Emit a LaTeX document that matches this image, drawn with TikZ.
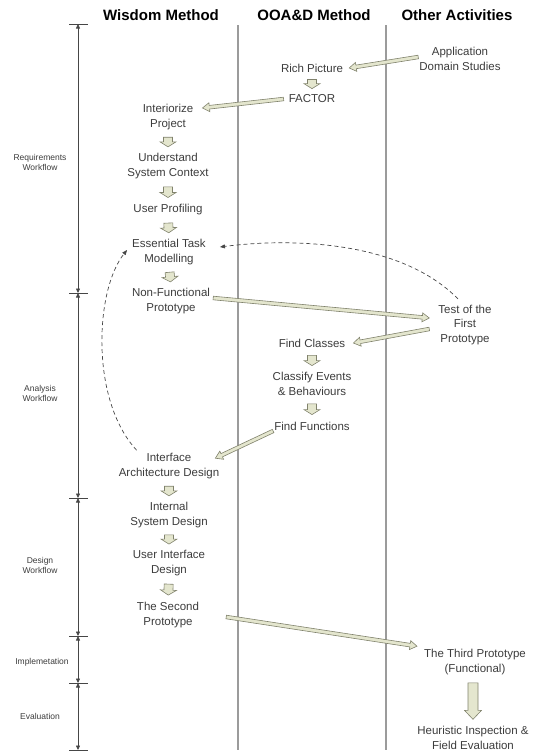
\documentclass[tikz,border=0pt]{standalone}
\usepackage{fontspec}
\setmainfont{Liberation Sans}
\usetikzlibrary{arrows.meta,calc}

\definecolor{textgray}{RGB}{60,60,60}
\definecolor{linegray}{RGB}{155,155,155}
\definecolor{axisgray}{RGB}{70,70,70}
\definecolor{arrowfill}{RGB}{228,230,206}
\definecolor{arrowedge}{RGB}{128,130,108}

% hollow block arrow: shaft half-width, head half-width, head length, from, to
\newcommand{\blockarrow}[5]{%
  \coordinate (ba-s) at (#4);
  \coordinate (ba-e) at (#5);
  \coordinate (ba-h) at ($(ba-e)!#3!(ba-s)$);
  \filldraw[fatarrow]
    ($(ba-s)!#1!90:(ba-e)$) -- ($(ba-h)!#1!90:(ba-e)$) -- ($(ba-h)!#2!90:(ba-e)$)
    -- (ba-e) -- ($(ba-h)!#2!-90:(ba-e)$) -- ($(ba-h)!#1!-90:(ba-e)$)
    -- ($(ba-s)!#1!-90:(ba-e)$) -- cycle;
}
\newcommand{\stepdown}[2]{%
  \blockarrow{4.5pt}{8pt}{5pt}{$(#1.south)!0.3!(#2.north)$}{$(#1.south)!0.75!(#2.north)$}}

\begin{document}
\begin{tikzpicture}[
  x=1pt,
  y=-1pt,
  txt/.style={font=\fontsize{11.5}{14.5}\selectfont,text=textgray,align=center,inner sep=1pt},
  head/.style={font=\fontsize{15}{18}\selectfont\bfseries,text=black},
  phase/.style={font=\fontsize{8.5}{10}\selectfont,text=textgray,align=center},
  colline/.style={draw=linegray,line width=1.2pt},
  dimline/.style={draw=axisgray,line width=0.7pt,
    {Triangle[length=4.5pt,width=4pt]}-{Triangle[length=4.5pt,width=4pt]}},
  tickline/.style={draw=axisgray,line width=0.7pt},
  fatarrow/.style={fill=arrowfill,draw=arrowedge,line width=0.6pt,line join=miter},
  feedback/.style={draw=axisgray,line width=0.7pt,dash pattern=on 4pt off 3pt,
    -{Triangle[length=5pt,width=4pt]}}
]
\useasboundingbox (0,0) rectangle (533,753);

% Column headings
\node[head] (hwis) at (161,15) {Wisdom Method};
\node[head] (hooad) at (314,15) {OOA\&D Method};
\node[head] (hoth) at (457,15) {Other Activities};

% Column separators
\draw[colline] (238,25) -- (238,750);
\draw[colline] (386,25) -- (386,750);

% Workflow time line
\foreach \ya/\yb in {24/293,293/498,498/636,636/683,683/750}
  \draw[dimline] (78,\ya) -- (78,\yb);
\foreach \y in {24,293,498,636,683,750}
  \draw[tickline] (69,\y) -- (88,\y);
\node[phase] (preq) at (40,162) {Requirements\\Workflow};
\node[phase] (pana) at (40,393) {Analysis\\Workflow};
\node[phase] (pdes) at (40,565) {Design\\Workflow};
\node[phase] (pimp) at (42,662) {Implemetation};
\node[phase] (peva) at (40,716) {Evaluation};

% Wisdom method
\node[txt] (inter) at (168,117) {Interiorize\\Project};
\node[txt] (usc) at (168,166) {Understand\\System Context};
\node[txt] (prof) at (168,210) {User Profiling};
\node[txt] (etm) at (169,252) {Essential Task\\Modelling};
\node[txt] (nfp) at (171,301) {Non-Functional\\Prototype};
\node[txt] (iad) at (169,466) {Interface\\Architecture Design};
\node[txt] (isd) at (169,515) {Internal\\System Design};
\node[txt] (uid) at (169,563) {User Interface\\Design};
\node[txt] (sec) at (168,615) {The Second\\Prototype};

% OOA&D method
\node[txt] (rich) at (312,68) {Rich Picture};
\node[txt] (factor) at (312,99) {FACTOR};
\node[txt] (fclass) at (312,343) {Find Classes};
\node[txt] (cev) at (312,384) {Classify Events\\\& Behaviours};
\node[txt] (ffun) at (312,426) {Find Functions};

% Other activities
\node[txt] (appl) at (460,59) {Application\\Domain Studies};
\node[txt] (test) at (465,325) {Test of the\\First\\Prototype};
\node[txt] (third) at (475,662) {The Third Prototype\\(Functional)};
\node[txt] (heur) at (473,738) {Heuristic Inspection \&\\Field Evaluation};

% Steps inside a column
\foreach \a/\b in {rich/factor,inter/usc,usc/prof,prof/etm,etm/nfp,
                   fclass/cev,cev/ffun,iad/isd,isd/uid,uid/sec}
  \stepdown{\a}{\b};
\blockarrow{5pt}{8.5pt}{9pt}{$(third.south)+(-2,7)$}{$(heur.north)+(0,-6)$}

% Hand-overs between columns
\blockarrow{1.8pt}{4.5pt}{7pt}{[yshift=2pt]appl.west}{[xshift=5pt]rich.east}
\blockarrow{1.8pt}{4.5pt}{7pt}{[xshift=-4pt]factor.west}{[xshift=8pt,yshift=9pt]inter.east}
\blockarrow{1.8pt}{4.5pt}{7pt}{[xshift=2pt,yshift=3pt]nfp.east}{[xshift=-8pt,yshift=7pt]test.west}
\blockarrow{1.8pt}{4.5pt}{7pt}{[xshift=-8pt,yshift=-4pt]test.west}{[xshift=7pt]fclass.east}
\blockarrow{1.8pt}{4.5pt}{7pt}{[yshift=-5pt]ffun.west}{[xshift=-5pt,yshift=-6pt]iad.north east}
\blockarrow{1.8pt}{4.5pt}{7pt}{[xshift=26pt,yshift=-2pt]sec.east}{[xshift=-6pt,yshift=2pt]third.north west}

% Feedback to task modelling
\draw[feedback] ([xshift=-7pt,yshift=5pt]test.north)
  .. controls (400,240) and (290,238) .. ([xshift=13pt,yshift=5pt]etm.east);
\draw[feedback] ([xshift=19pt,yshift=2pt]iad.north west)
  .. controls (90,400) and (95,290) .. ([xshift=-4pt,yshift=2pt]etm.west);

\end{tikzpicture}
\end{document}
